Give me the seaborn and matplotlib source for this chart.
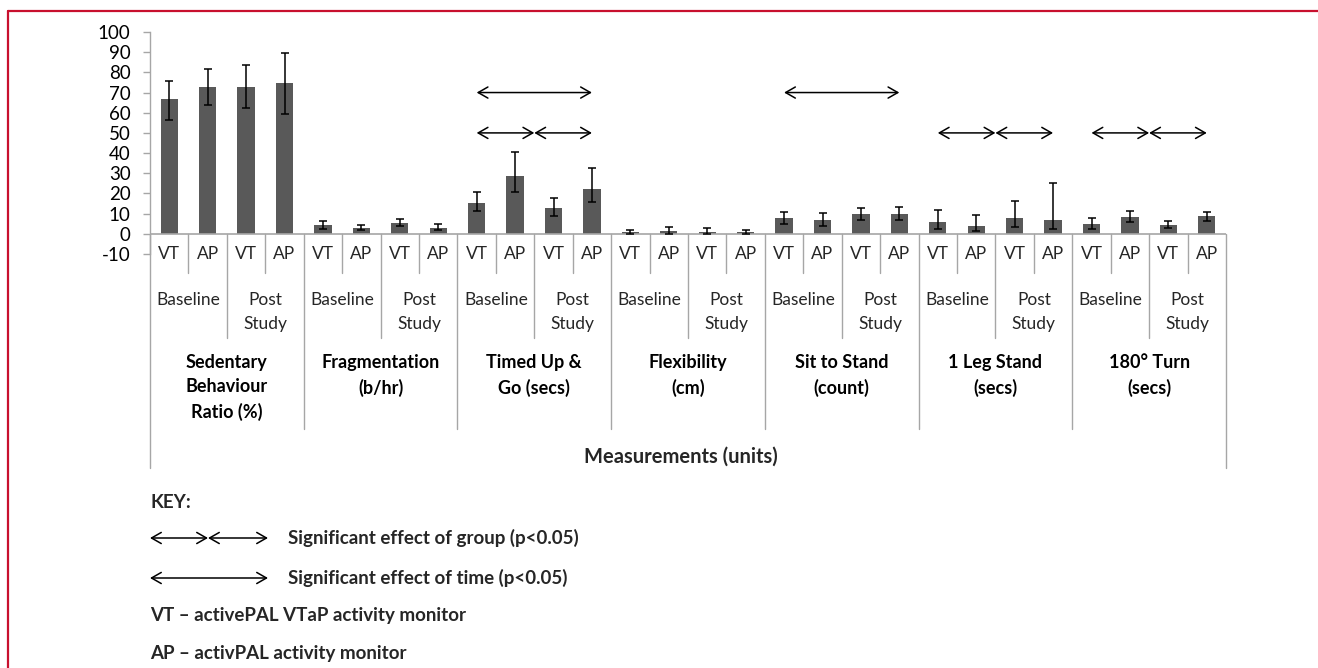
import numpy as np
import pandas as pd
import matplotlib
matplotlib.use('Agg')
import matplotlib.pyplot as plt
import matplotlib.transforms as mtransforms
from matplotlib.lines import Line2D
import seaborn as sns

sns.set_style('white')
plt.rcParams['font.family'] = ['Lato', 'DejaVu Sans']
plt.rcParams['axes.unicode_minus'] = False

# ---- data ----
measures = ['Sedentary\nBehaviour\nRatio (%)', 'Fragmentation\n(b/hr)', 'Timed Up &\nGo (secs)',
            'Flexibility\n(cm)', 'Sit to Stand\n(count)', '1 Leg Stand\n(secs)', '180° Turn\n(secs)']
sessions = ['Baseline', 'Post\nStudy']
devices = ['VT', 'AP']

means = [67.0, 72.8, 72.8, 74.8,
         4.3, 3.1, 5.6, 3.1,
         15.3, 28.7, 12.9, 22.3,
         0.8, 1.5, 0.8, 0.7,
         7.6, 6.9, 9.6, 9.6,
         5.8, 3.8, 7.6, 6.9,
         5.1, 8.3, 4.5, 8.9]
err_hi = [75.7, 81.5, 83.5, 89.8,
          6.3, 4.6, 7.1, 5.0,
          20.8, 40.6, 17.8, 32.5,
          1.8, 3.3, 3.1, 1.8,
          10.7, 10.2, 12.7, 13.2,
          11.9, 9.4, 16.5, 25.2,
          7.6, 11.2, 6.3, 10.7]
err_lo = [56.3, 63.7, 62.4, 59.2,
          2.3, 1.8, 3.8, 1.8,
          11.4, 20.5, 8.6, 15.8,
          0.0, 0.0, 0.0, 0.0,
          4.8, 4.1, 6.8, 6.8,
          2.3, 1.5, 3.5, 2.3,
          2.6, 5.9, 2.8, 6.3]

# significance markers (measure index)
time_sig = [2, 4]      # arrow across baseline -> post study
group_sig = [2, 5, 6]  # pair of arrows VT <-> AP
time_level = 70
group_level = 50

# ---- build table ----
rows = []
for m in range(len(measures)):
    for s in range(len(sessions)):
        for d in range(len(devices)):
            rows.append((m, s, d))
df = pd.DataFrame(rows, columns=['m', 's', 'd'])
df['pos'] = [f'{m}-{s}-{d}' for m, s, d in rows]
df['mean'] = means
df['hi'] = err_hi
df['lo'] = err_lo

W, H = 1318, 668
fig = plt.figure(figsize=(W / 100, H / 100), dpi=100)
ax = fig.add_axes([150 / W, 1 - 254 / H, (1226 - 150) / W, (254 - 32) / H])

bar_col = '#595959'
axis_col = '#A6A6A6'

sns.barplot(data=df, x='pos', y='mean', color=bar_col, width=0.45,
            saturation=1, errorbar=None, ax=ax, edgecolor='none')
xs = np.arange(len(df))
ax.errorbar(xs, df['mean'], yerr=[df['mean'] - df['lo'], df['hi'] - df['mean']],
            fmt='none', ecolor='black', elinewidth=1.1, capsize=3, capthick=1.1, zorder=5)

ax.set_xlim(-0.5, len(df) - 0.5)
ax.set_ylim(-10, 100)
ax.set_yticks(range(-10, 101, 10))
ax.tick_params(axis='y', length=5, width=1, color=axis_col, labelsize=13.5,
               labelcolor='black', pad=9, left=True)
ax.set_xticks([])
ax.set_xlabel('')
ax.set_ylabel('')
for sp in ['top', 'right', 'bottom']:
    ax.spines[sp].set_visible(False)
ax.spines['left'].set_color(axis_col)
ax.spines['left'].set_linewidth(1)
ax.axhline(0, color=axis_col, lw=1.2, zorder=1)

# ---- multi level category axis ----
tr = mtransforms.blended_transform_factory(ax.transData, fig.transFigure)


def fy(px):
    return 1 - px / H


def vline(x, y0, y1):
    ax.add_line(Line2D([x, x], [fy(y0), fy(y1)], transform=tr, color=axis_col,
                       lw=1, clip_on=False))


n = len(df)
for k in range(n + 1):
    x = k - 0.5
    if k == 0 or k == n:
        vline(x, 234, 468)
    elif k % 4 == 0:
        vline(x, 234, 429)
    elif k % 2 == 0:
        vline(x, 234, 338)
    else:
        vline(x, 234, 273)

for i, r in df.iterrows():
    ax.text(i, fy(254), devices[r['d']], transform=tr, ha='center', va='center',
            fontsize=12.5, color='#262626')
for m in range(len(measures)):
    for s in range(len(sessions)):
        xc = m * 4 + s * 2 + 0.5
        ax.text(xc, fy(292), sessions[s], transform=tr, ha='center', va='top',
                fontsize=12.5, color='#262626', linespacing=1.6)
    ax.text(m * 4 + 1.5, fy(354), measures[m], transform=tr, ha='center', va='top',
            fontsize=13, fontweight='bold', color='black', linespacing=1.52)
fig.text(681 / W, fy(457), 'Measurements (units)', ha='center',
         va='center', fontsize=14.5, fontweight='bold')

# ---- significance arrows ----
astyle = '<->,head_length=0.7,head_width=0.4'


def arrow(x0, x1, y, **kw):
    ax.annotate('', xy=(x1, y), xytext=(x0, y), annotation_clip=False,
                arrowprops=dict(arrowstyle=astyle, lw=1.1, color='black',
                                shrinkA=0, shrinkB=0), **kw)


for m in time_sig:
    arrow(m * 4, m * 4 + 3, time_level)
for m in group_sig:
    arrow(m * 4, m * 4 + 1.5, group_level)
    arrow(m * 4 + 1.5, m * 4 + 3, group_level)

# ---- key ----
def key_arrow(px0, px1, py):
    ax.annotate('', xy=(px1 / W, fy(py)), xytext=(px0 / W, fy(py)),
                xycoords=fig.transFigure, textcoords=fig.transFigure,
                annotation_clip=False,
                arrowprops=dict(arrowstyle=astyle, lw=1.1, color='black',
                                shrinkA=0, shrinkB=0))


ksize = 13.5
fig.text(150 / W, fy(502), 'KEY:', fontsize=ksize, fontweight='bold', va='center')
key_arrow(150, 208, 538)
key_arrow(208, 268, 538)
fig.text(288 / W, fy(538), 'Significant effect of group (p<0.05)', fontsize=ksize,
         fontweight='bold', va='center')
key_arrow(150, 268, 578)
fig.text(288 / W, fy(578), 'Significant effect of time (p<0.05)', fontsize=ksize,
         fontweight='bold', va='center')
fig.text(150 / W, fy(616), 'VT – activePAL VTaP activity monitor', fontsize=ksize,
         fontweight='bold', va='center')
fig.text(150 / W, fy(653), 'AP – activPAL activity monitor', fontsize=ksize,
         fontweight='bold', va='center')

# red frame
red = '#C8102E'
fig.add_artist(Line2D([8 / W, 1.01], [fy(11), fy(11)], transform=fig.transFigure,
                      color=red, lw=1.6))
fig.add_artist(Line2D([8 / W, 8 / W], [fy(11), -0.01], transform=fig.transFigure,
                      color=red, lw=1.6))

fig.savefig('out.png', dpi=100)
